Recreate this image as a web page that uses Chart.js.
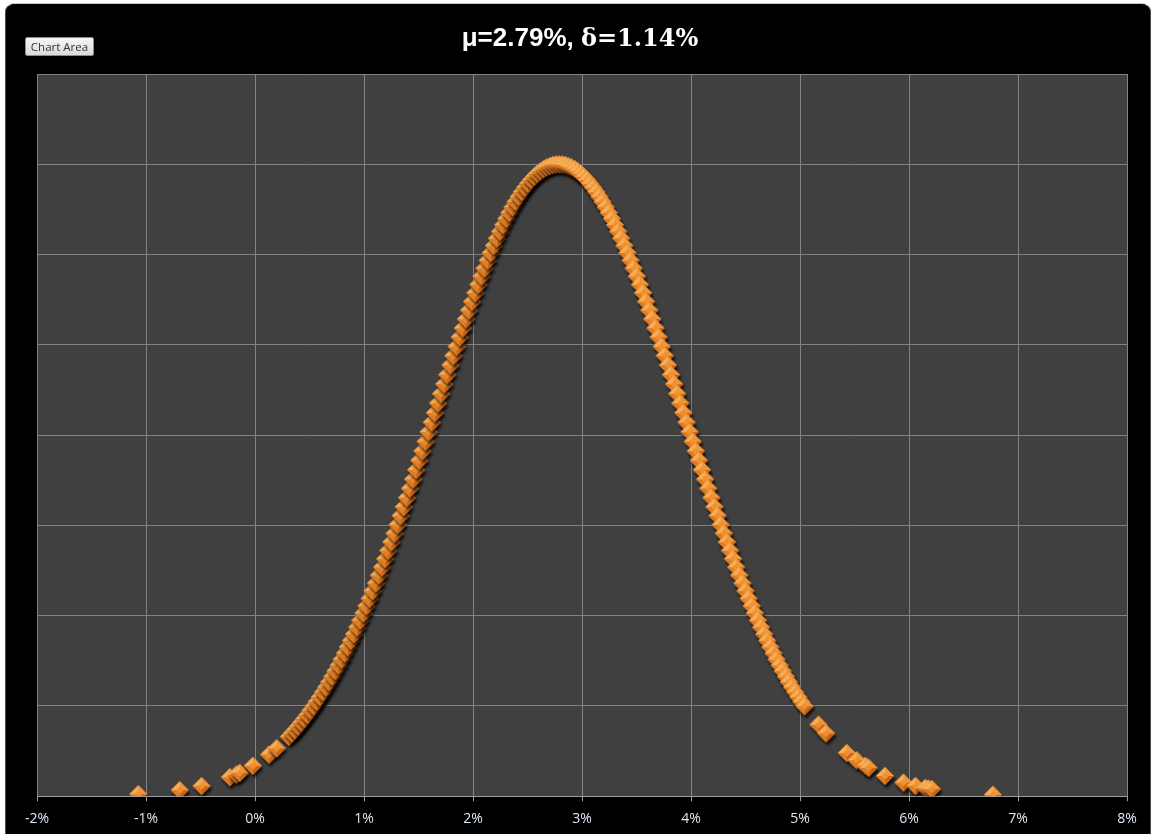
<!DOCTYPE html>
<html>
<head>
<meta charset="utf-8">
<title>Return distribution</title>
<script src="https://cdn.jsdelivr.net/npm/chart.js@4.4.0/dist/chart.umd.min.js"></script>
<style>
    html, body { margin: 0; padding: 0; background: #fff; width: 1154px; height: 834px; overflow: hidden; }
    #frame {
        position: absolute; left: 5px; top: 3px; width: 1144px; height: 860px;
        background: #000; border-radius: 9px 9px 0 0;
        border-top: 1px solid #c8c8c8; border-left: 1px solid #4a4a4a; border-right: 1px solid #4a4a4a;
    }
    #chart { position: absolute; left: 0; top: 0; }
    #areaBtn {
        position: absolute; left: 25px; top: 37px; width: 69px; height: 19px;
        padding: 0; margin: 0; box-sizing: border-box;
        font: 11.5px "Open Sans", sans-serif; color: #333;
        background: linear-gradient(#f6f6f6, #dadada);
        border: 1px solid #8c8c8c; border-radius: 2px;
    }
</style>
</head>
<body>
<div id="frame"></div>
<canvas id="chart" width="1154" height="834"></canvas>
<button id="areaBtn">Chart Area</button>
<script>
// Title pieces (drawn with two fonts like the original)
const titleLeft = 'μ=2.79%, ';
const titleRight = 'δ=1.14%';

// X axis tick labels (-2% .. 8%)
const xTickLabels = ['-2%', '-1%', '0%', '1%', '2%', '3%', '4%', '5%', '6%', '7%', '8%'];

// Return values in %, sorted (low tail, body, high tail)
const returnPct = [
    -1.07, -0.69, -0.49, -0.23, -0.17, -0.14, -0.02, 0.13, 0.20,
    0.311, 0.339, 0.368, 0.396, 0.425, 0.453, 0.482, 0.510, 0.539, 0.567,
    0.596, 0.624, 0.653, 0.681, 0.710, 0.738, 0.767, 0.795, 0.824, 0.852,
    0.881, 0.909, 0.938, 0.966, 0.995, 1.023, 1.052, 1.080, 1.109, 1.137,
    1.166, 1.194, 1.223, 1.251, 1.280, 1.308, 1.337, 1.365, 1.394, 1.422,
    1.451, 1.479, 1.508, 1.536, 1.565, 1.593, 1.622, 1.650, 1.679, 1.707,
    1.736, 1.764, 1.793, 1.821, 1.850, 1.878, 1.907, 1.935, 1.964, 1.992,
    2.021, 2.049, 2.078, 2.106, 2.135, 2.163, 2.192, 2.220, 2.249, 2.277,
    2.306, 2.334, 2.363, 2.391, 2.420, 2.448, 2.477, 2.505, 2.534, 2.562,
    2.591, 2.619, 2.648, 2.676, 2.705, 2.733, 2.762,
    2.790,
    2.819, 2.847, 2.876, 2.904, 2.933, 2.961, 2.990, 3.018, 3.047, 3.075,
    3.104, 3.132, 3.161, 3.189, 3.218, 3.246, 3.275, 3.303, 3.332, 3.360,
    3.389, 3.417, 3.446, 3.474, 3.503, 3.531, 3.560, 3.588, 3.617, 3.645,
    3.674, 3.702, 3.731, 3.759, 3.788, 3.816, 3.845, 3.873, 3.902, 3.930,
    3.959, 3.987, 4.016, 4.044, 4.073, 4.101, 4.130, 4.158, 4.187, 4.215,
    4.244, 4.272, 4.301, 4.329, 4.358, 4.386, 4.415, 4.443, 4.472, 4.500,
    4.529, 4.557, 4.586, 4.614, 4.643, 4.671, 4.700, 4.728, 4.757, 4.785,
    4.814, 4.842, 4.871, 4.899, 4.928, 4.956, 4.985, 5.013, 5.042,
    5.17, 5.24, 5.43, 5.52, 5.60, 5.63, 5.78, 5.95, 6.06, 6.15, 6.18, 6.21, 6.77
];

// Density read for each return above
const density = [
    0.11, 0.33, 0.56, 1.05, 1.20, 1.29, 1.68, 2.30, 2.65,
    3.29, 3.47, 3.66, 3.86, 4.07, 4.28, 4.50, 4.74, 4.98, 5.23,
    5.49, 5.76, 6.03, 6.32, 6.62, 6.93, 7.24, 7.57, 7.91, 8.25,
    8.61, 8.97, 9.35, 9.73, 10.13, 10.53, 10.94, 11.36, 11.79, 12.23,
    12.68, 13.14, 13.60, 14.07, 14.55, 15.03, 15.53, 16.02, 16.53, 17.04,
    17.55, 18.07, 18.59, 19.11, 19.64, 20.17, 20.70, 21.23, 21.76, 22.29,
    22.82, 23.34, 23.87, 24.39, 24.90, 25.42, 25.92, 26.42, 26.91, 27.39,
    27.87, 28.33, 28.79, 29.23, 29.67, 30.09, 30.49, 30.89, 31.27, 31.63,
    31.98, 32.31, 32.62, 32.92, 33.20, 33.46, 33.70, 33.92, 34.13, 34.31,
    34.47, 34.61, 34.73, 34.83, 34.90, 34.96, 34.99,
    35.00,
    34.99, 34.96, 34.90, 34.83, 34.73, 34.61, 34.47, 34.31, 34.13, 33.92,
    33.70, 33.46, 33.20, 32.92, 32.62, 32.31, 31.98, 31.63, 31.27, 30.89,
    30.49, 30.09, 29.67, 29.23, 28.79, 28.33, 27.87, 27.39, 26.91, 26.42,
    25.92, 25.42, 24.90, 24.39, 23.87, 23.34, 22.82, 22.29, 21.76, 21.23,
    20.70, 20.17, 19.64, 19.11, 18.59, 18.07, 17.55, 17.04, 16.53, 16.02,
    15.53, 15.03, 14.55, 14.07, 13.60, 13.14, 12.68, 12.23, 11.79, 11.36,
    10.94, 10.53, 10.13, 9.73, 9.35, 8.97, 8.61, 8.25, 7.91, 7.57,
    7.24, 6.93, 6.62, 6.32, 6.03, 5.76, 5.49, 5.23, 4.98,
    3.96, 3.48, 2.39, 1.99, 1.68, 1.57, 1.12, 0.75, 0.57, 0.46, 0.42, 0.39, 0.08
];

if (returnPct.length !== density.length) console.error('length mismatch', returnPct.length, density.length);

// Beveled orange diamond with a soft drop shadow
function makeMarker() {
    const s = 30, c = s / 2, r = 9, ri = 3.8;
    const cv = document.createElement('canvas');
    cv.width = s; cv.height = s;
    const g = cv.getContext('2d');

    const tri = (pts, color) => {
        g.beginPath();
        g.moveTo(pts[0][0], pts[0][1]);
        for (let i = 1; i < pts.length; i++) g.lineTo(pts[i][0], pts[i][1]);
        g.closePath();
        g.fillStyle = color;
        g.fill();
    };
    const L = [c - r, c], T = [c, c - r], R = [c + r, c], B = [c, c + r];

    g.save();
    g.shadowColor = 'rgba(0,0,0,0.85)';
    g.shadowBlur = 3;
    g.shadowOffsetX = 1.5;
    g.shadowOffsetY = 3;
    tri([L, T, R, B], '#d87621');
    g.restore();

    tri([L, T, [c, c]], '#f8ae58');
    tri([T, R, [c, c]], '#f0973c');
    tri([R, B, [c, c]], '#c86618');
    tri([B, L, [c, c]], '#df7d26');
    tri([[c - ri, c], [c, c - ri], [c + ri, c], [c, c + ri]], '#f0902e');
    return cv;
}

const plotBackground = {
    id: 'plotBackground',
    beforeDraw(chart) {
        const a = chart.chartArea, ctx = chart.ctx;
        ctx.save();
        ctx.fillStyle = '#404040';
        ctx.fillRect(a.left, a.top, a.right - a.left, a.bottom - a.top);
        ctx.restore();
    }
};

const splitTitle = {
    id: 'splitTitle',
    afterDraw(chart) {
        const ctx = chart.ctx;
        ctx.save();
        ctx.fillStyle = '#ffffff';
        ctx.textBaseline = 'alphabetic';
        const f1 = 'bold 26px "Liberation Sans", Arial, sans-serif';
        const f2 = 'bold 24px "DejaVu Serif", "Liberation Serif", serif';
        ctx.font = f1;
        const w1 = ctx.measureText(titleLeft).width;
        ctx.font = f2;
        const w2 = ctx.measureText(titleRight).width;
        const x = 580 - (w1 + w2) / 2;
        const y = 46;
        ctx.font = f1;
        ctx.fillText(titleLeft, x, y);
        ctx.font = f2;
        ctx.fillText(titleRight, x + w1, y);
        ctx.restore();
    }
};

const points = returnPct.map((v, i) => ({ x: v, y: density[i] }));

new Chart(document.getElementById('chart'), {
    type: 'scatter',
    data: {
        datasets: [{
            label: 'Density',
            data: points,
            pointStyle: makeMarker(),
            pointRadius: 9,
            pointHoverRadius: 9
        }]
    },
    options: {
        responsive: false,
        animation: false,
        devicePixelRatio: 1,
        layout: { padding: { left: 37, right: 27, top: 74, bottom: -2 } },
        plugins: {
            legend: { display: false },
            title: { display: false },
            tooltip: { enabled: false }
        },
        scales: {
            x: {
                type: 'linear',
                min: -2,
                max: 8,
                ticks: {
                    stepSize: 1,
                    color: '#dde7f3',
                    padding: 9,
                    font: { family: '"Open Sans", sans-serif', size: 14 },
                    callback: (v) => xTickLabels[Math.round(v) + 2]
                },
                grid: { color: '#838383', tickLength: 5, tickColor: '#a0a0a0', lineWidth: 1 },
                border: { color: '#a0a0a0' }
            },
            y: {
                min: 0,
                max: 40,
                ticks: { stepSize: 5, display: false },
                grid: { color: '#838383', drawTicks: false },
                border: { display: false }
            }
        }
    },
    plugins: [plotBackground, splitTitle]
});
</script>
</body>
</html>
